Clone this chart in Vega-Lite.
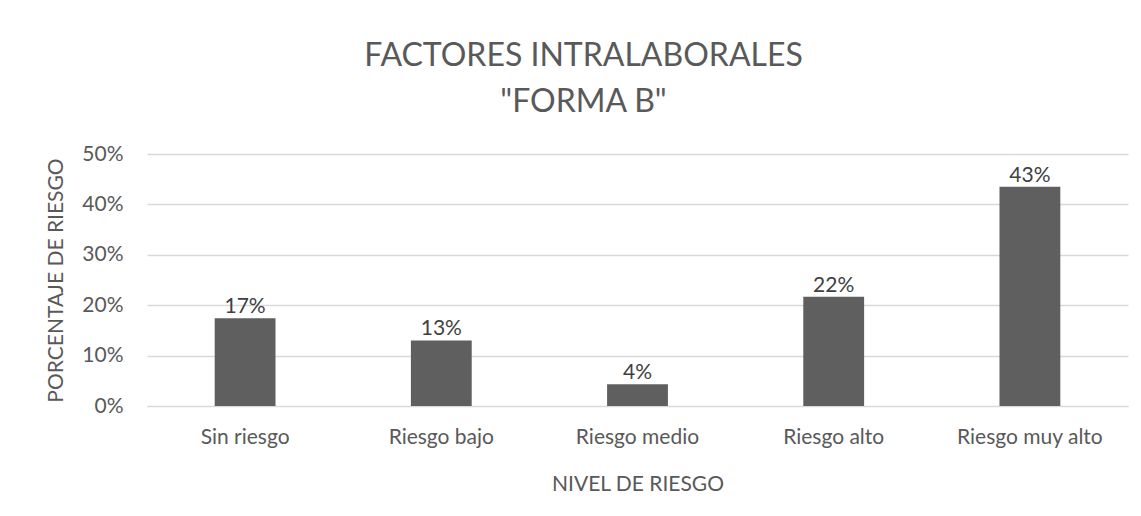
{
  "$schema": "https://vega.github.io/schema/vega-lite/v6.json",
  "autosize": "none",
  "width": 981,
  "height": 252,
  "padding": {"left": 147, "top": 154, "right": 13, "bottom": 110},
  "background": "white",
  "title": {
    "text": ["FACTORES INTRALABORALES", "\"FORMA B\""],
    "anchor": "middle",
    "dx": -54,
    "offset": 24,
    "font": "Lato",
    "fontSize": 32,
    "fontWeight": "normal",
    "lineHeight": 46,
    "color": "#595959"
  },
  "data": {
    "values": [
      {"nivel": "Sin riesgo", "porcentaje": 0.174},
      {"nivel": "Riesgo bajo", "porcentaje": 0.130},
      {"nivel": "Riesgo medio", "porcentaje": 0.043},
      {"nivel": "Riesgo alto", "porcentaje": 0.217},
      {"nivel": "Riesgo muy alto", "porcentaje": 0.4348}
    ]
  },
  "encoding": {
    "x": {
      "field": "nivel",
      "type": "nominal",
      "sort": null,
      "title": "NIVEL DE RIESGO",
      "scale": {"paddingInner": 0.69, "paddingOuter": 0.345},
      "axis": {
        "labelAngle": 0,
        "ticks": false,
        "tickSize": 0,
        "domain": true,
        "domainColor": "#d9d9d9",
        "labelPadding": 20,
        "labelFont": "Lato",
        "labelFontSize": 21,
        "labelColor": "#595959",
        "titleFont": "Lato",
        "titleFontSize": 21,
        "titleFontWeight": "normal",
        "titleColor": "#595959",
        "titlePadding": 26
      }
    },
    "y": {
      "field": "porcentaje",
      "type": "quantitative",
      "title": "PORCENTAJE DE RIESGO",
      "scale": {"domain": [0, 0.5]},
      "axis": {
        "format": ".0%",
        "values": [0, 0.1, 0.2, 0.3, 0.4, 0.5],
        "ticks": false,
        "tickSize": 0,
        "domain": false,
        "grid": true,
        "gridColor": "#d9d9d9",
        "gridWidth": 1.3,
        "labelPadding": 24,
        "labelFont": "Lato",
        "labelFontSize": 21,
        "labelColor": "#595959",
        "titleFont": "Lato",
        "titleFontSize": 21,
        "titleFontWeight": "normal",
        "titleColor": "#595959",
        "titlePadding": 15
      }
    }
  },
  "layer": [
    {"mark": {"type": "bar", "color": "#5f5f5f"}},
    {
      "mark": {"type": "text", "baseline": "alphabetic", "dy": -5, "font": "Lato", "fontSize": 21, "color": "#404040"},
      "encoding": {"text": {"field": "porcentaje", "type": "quantitative", "format": ".0%"}}
    }
  ],
  "config": {"view": {"stroke": null}}
}
